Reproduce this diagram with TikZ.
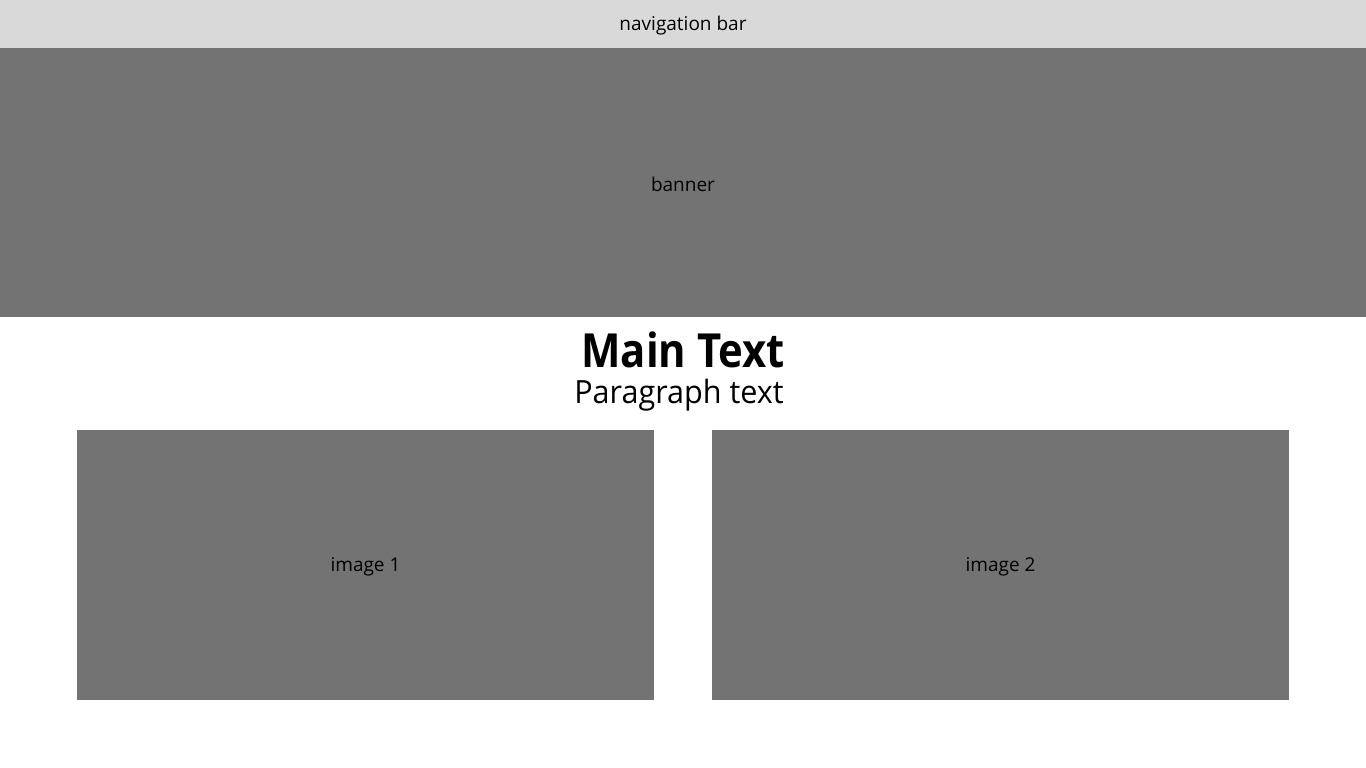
\documentclass[tikz,border=0pt]{standalone}
\usepackage{fontspec}
\usepackage{graphicx}
\setmainfont{Open Sans}
\definecolor{navgray}{HTML}{D9D9D9}
\definecolor{boxgray}{HTML}{737373}
\tikzset{
  block/.style={fill=#1, draw=none, inner sep=0pt},
  lbl/.style={font=\fontsize{19}{22}\selectfont, text=black, inner sep=0pt}
}
\begin{document}
\begin{tikzpicture}[x=1pt,y=-1pt]
\useasboundingbox[fill=white] (0,0) rectangle (1366,768);
\fill[navgray] (0,0) rectangle (1366,48);
\node[lbl] (nav) at (683,25.5) {navigation bar};
\fill[boxgray] (0,48) rectangle (1366,317);
\node[lbl] (banner) at (683,184.5) {banner};
\node[font=\fontsize{47}{54}\selectfont\bfseries, inner sep=0pt, anchor=base] (main) at (683,367) {\scalebox{0.89}[1]{Main Text}};
\node[font=\fontsize{32}{38}\selectfont, inner sep=0pt, anchor=base] (para) at (679,403) {\scalebox{0.955}[1]{Paragraph text}};
\fill[boxgray] (77,430) rectangle (654,700);
\node[lbl] (img1) at (365.5,567) {image 1};
\fill[boxgray] (712,430) rectangle (1289,700);
\node[lbl] (img2) at (1000.5,567) {image 2};
\end{tikzpicture}
\end{document}
